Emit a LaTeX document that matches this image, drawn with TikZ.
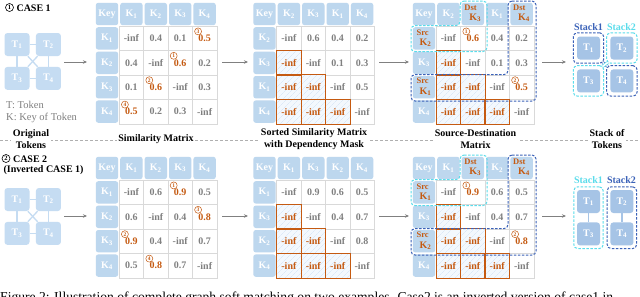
\documentclass[tikz,border=0pt]{standalone}
\usepackage{fontspec}
\setmainfont{Liberation Serif}
\usetikzlibrary{arrows.meta}
\usetikzlibrary{patterns.meta}
\usetikzlibrary{positioning}
\usetikzlibrary{fit}

\definecolor{hdrblue}{RGB}{189,215,238}
\definecolor{tokblue}{RGB}{197,220,242}
\definecolor{stkblue}{RGB}{166,196,230}
\definecolor{valgray}{RGB}{128,128,128}
\definecolor{gridgray}{RGB}{217,217,217}
\definecolor{hiorange}{RGB}{197,90,17}
\definecolor{stackone}{RGB}{59,98,184}
\definecolor{stacktwo}{RGB}{90,220,235}
\definecolor{maskfill}{RGB}{243,248,253}
\definecolor{hatchblue}{RGB}{208,226,244}
\definecolor{arrowgray}{RGB}{128,128,128}
\definecolor{sepgray}{RGB}{175,175,175}

\newcommand{\kk}[1]{K\textsubscript{#1}}
\newcommand{\tk}[1]{T\textsubscript{#1}}
\newcommand{\kd}[1]{\color{hiorange}\raisebox{3pt}{\shortstack[l]{{\fontsize{8.5}{8.5}\selectfont Dst}\\[0.5pt]\hspace*{5pt}\kk{#1}}}}
\newcommand{\ks}[1]{\color{hiorange}\raisebox{2pt}{\shortstack[l]{{\fontsize{8.5}{8.5}\selectfont Src}\\[0.5pt]\hspace*{3pt}\kk{#1}}}}

\newcommand{\simmat}[6]{%
  \foreach \h [count=\c from 0] in {#4}
    \node[hdr] (#1-0-\c) at (#2+24.4*\c, #3) {\h};
  \foreach \h [count=\r] in {#5}
    \node[hdr] (#1-\r-0) at (#2, #3+24.4*\r) {\h};
  \foreach \row [count=\r] in {#6}
    \foreach \st/\v [count=\c] in \row
      \node[\st] (#1-\r-\c) at (#2+24.4*\c, #3+24.4*\r) {\v};
}
\newcommand{\maskrows}[1]{%
  \foreach \r in {2,3,4}{
    \pgfmathtruncatemacro\cm{\r-1}
    \foreach \c in {1,...,\cm}
      \draw[maskline] (#1-\r-\c.north west) rectangle (#1-\r-\c.south east);
  }
}

\begin{document}
\begin{tikzpicture}[x=1pt, y=-1pt, font=\bfseries,
    cell/.style={minimum width=24.4pt, minimum height=24.4pt, inner sep=0pt},
    hdr/.style={fill=hdrblue, text=white, rounded corners=2.5pt, minimum width=22.4pt, minimum height=22.4pt, inner sep=0pt},
    val/.style={cell, draw=gridgray, line width=0.5pt, fill=white, text=valgray},
    hi/.style={val, text=hiorange},
    mask/.style={cell, fill=maskfill, postaction={pattern={Lines[angle=45, distance=4pt, line width=0.45pt]}, pattern color=hatchblue}, text=hiorange},
    maskline/.style={draw=hiorange, line width=0.8pt},
    onum/.style={circle, draw=hiorange, text=hiorange, line width=0.5pt, inner sep=0pt, minimum size=7pt, font=\fontsize{5.5}{5.5}\selectfont\bfseries},
    knum/.style={circle, draw, line width=0.6pt, inner sep=0pt, minimum size=8pt, font=\fontsize{6.5}{6.5}\selectfont\bfseries},
    tokbox/.style={fill=tokblue, text=white, rounded corners=3pt, minimum width=25pt, minimum height=23pt, inner sep=0pt},
    tokline/.style={draw=tokblue, line width=1.3pt},
    stkbox/.style={fill=stkblue, text=white, rounded corners=3pt, minimum size=23pt, inner sep=0pt},
    stklink/.style={draw=stkblue, line width=1.2pt},
    stkline/.style={draw=#1, dash pattern=on 2.5pt off 1.5pt, line width=1pt, rounded corners=4pt},
    bridge/.style={draw=#1, line width=0.7pt, double=white, double distance=1.6pt, shorten <=-2pt, shorten >=-2pt},
    flow/.style={draw=arrowgray, line width=0.7pt, -{Stealth[length=4pt, width=3.5pt]}},
    sep/.style={draw=sepgray, dash pattern=on 3pt off 2pt, line width=0.6pt},
    stage/.style={fill=white, inner sep=1.5pt, align=center}
  ]
  \path[fill=white, use as bounding box] (0,0) rectangle (640,297);

  \draw[sep] (0,140) -- (640,140);
  \node[stage] (lab-tok) at (31,139.5) {Original\\Tokens};
  \node[stage] (lab-sim) at (156,139.5) {Similarity Matrix};
  \node[stage] (lab-sort) at (314,139.5) {Sorted Similarity Matrix\\with Dependency Mask};
  \node[stage] (lab-sd) at (475.5,139.5) {Source-Destination\\Matrix};
  \node[stage] (lab-stk) at (607,139.5) {Stack of\\Tokens};

  \node[knum] (c1-num) at (9.5,7.5) {1};
  \node[anchor=west] (c1-name) at (13,8) {CASE 1};
  \node[knum] (c2-num) at (6,158.5) {2};
  \node[anchor=west] (c2-name) at (9.5,159) {CASE 2};
  \node[anchor=west] (c2-inv) at (0,170.5) {(Inverted CASE 1)};
  \node[anchor=west, text=valgray, font=\fontsize{10.5}{12}\selectfont] (key-t) at (2.7,104.5) {T: Token};
  \node[anchor=west, text=valgray, font=\fontsize{10.5}{12}\selectfont] (key-k) at (2.7,117.5) {K: Key of Token};

  \foreach \cs/\ty in {1/44.5,2/199.5} {
    \node[tokbox] (o\cs-t1) at (17,\ty) {\tk1};
    \node[tokbox, right=6pt of o\cs-t1] (o\cs-t2) {\tk2};
    \node[tokbox, below=10.5pt of o\cs-t1] (o\cs-t3) {\tk3};
    \node[tokbox, below=10.5pt of o\cs-t2] (o\cs-t4) {\tk4};
    \draw[tokline] (o\cs-t1) -- (o\cs-t2);
    \draw[tokline] (o\cs-t3) -- (o\cs-t4);
    \draw[tokline] (o\cs-t1) -- (o\cs-t3);
    \draw[tokline] (o\cs-t2) -- (o\cs-t4);
    \draw[tokline] (o\cs-t1) -- (o\cs-t4);
    \draw[tokline] (o\cs-t2) -- (o\cs-t3);
  }

  \foreach \dy [count=\cs] in {0,154} {
    \foreach \xa/\xb [count=\k] in {64/87,222/248,379/409,542/566} {
      \coordinate (ar\cs-\k-s) at (\xa,62+\dy);
      \coordinate (ar\cs-\k-e) at (\xb,62+\dy);
      \draw[flow] (ar\cs-\k-s) -- (ar\cs-\k-e);
    }
  }

  \simmat{a1}{107}{14}{Key,\kk1,\kk2,\kk3,\kk4}{\kk1,\kk2,\kk3,\kk4}{%
    {val/-inf,val/0.4,val/0.1,hi/0.5},
    {val/0.4,val/-inf,hi/0.6,val/0.2},
    {val/0.1,hi/0.6,val/-inf,val/0.3},
    {hi/0.5,val/0.2,val/0.3,val/-inf}}
  \simmat{b1}{264.5}{14}{Key,\kk2,\kk3,\kk1,\kk4}{\kk2,\kk3,\kk1,\kk4}{%
    {val/-inf,val/0.6,val/0.4,val/0.2},
    {mask/-inf,val/-inf,val/0.1,val/0.3},
    {mask/-inf,mask/-inf,val/-inf,val/0.5},
    {mask/-inf,mask/-inf,mask/-inf,val/-inf}}
  \simmat{c1}{424}{14}{Key,\kk2,\kd3,\kk1,\kd4}{\ks2,\kk3,\ks1,\kk4}{%
    {val/-inf,hi/0.6,val/0.4,val/0.2},
    {mask/-inf,val/-inf,val/0.1,val/0.3},
    {mask/-inf,mask/-inf,val/-inf,hi/0.5},
    {mask/-inf,mask/-inf,mask/-inf,val/-inf}}

  \simmat{a2}{107}{168}{Key,\kk1,\kk2,\kk3,\kk4}{\kk1,\kk2,\kk3,\kk4}{%
    {val/-inf,val/0.6,hi/0.9,val/0.5},
    {val/0.6,val/-inf,val/0.4,hi/0.8},
    {hi/0.9,val/0.4,val/-inf,val/0.7},
    {val/0.5,hi/0.8,val/0.7,val/-inf}}
  \simmat{b2}{264.5}{168}{Key,\kk1,\kk3,\kk2,\kk4}{\kk1,\kk3,\kk2,\kk4}{%
    {val/-inf,val/0.9,val/0.6,val/0.5},
    {mask/-inf,val/-inf,val/0.4,val/0.7},
    {mask/-inf,mask/-inf,val/-inf,val/0.8},
    {mask/-inf,mask/-inf,mask/-inf,val/-inf}}
  \simmat{c2}{424}{168}{Key,\kk1,\kd3,\kk2,\kd4}{\ks1,\kk3,\ks2,\kk4}{%
    {val/-inf,hi/0.9,val/0.6,val/0.5},
    {mask/-inf,val/-inf,val/0.4,val/0.7},
    {mask/-inf,mask/-inf,val/-inf,hi/0.8},
    {mask/-inf,mask/-inf,mask/-inf,val/-inf}}

  \maskrows{b1}
  \maskrows{c1}
  \maskrows{b2}
  \maskrows{c2}

  \foreach \m/\r/\c/\idx in {a1/1/4/3,a1/2/3/1,a1/3/2/2,a1/4/1/4,c1/1/2/1,c1/3/4/2,
      a2/1/3/1,a2/2/4/3,a2/3/1/2,a2/4/2/4,c2/1/2/1,c2/3/4/2}
    \node[onum, xshift=-6.5pt, yshift=7pt] (\m-n\idx) at (\m-\r-\c) {\idx};

  \foreach \dy in {0,154} {
    \draw[stkline=stacktwo] (460,1+\dy) -- (487,1+\dy) -- (487,51.5+\dy) -- (411,51.5+\dy) -- (411,25.6+\dy) -- (460,25.6+\dy) -- cycle;
    \draw[stkline=stackone] (508,1+\dy) -- (536,1+\dy) -- (536,101+\dy) -- (411,101+\dy) -- (411,74.6+\dy) -- (508,74.6+\dy) -- cycle;
  }

  \node[text=stackone] (s1-l1) at (588.5,27) {Stack1};
  \node[text=stacktwo] (s1-l2) at (621.5,27) {Stack2};
  \node[stkbox] (s1-t1) at (588.5,48) {\tk1};
  \node[stkbox, right=10pt of s1-t1] (s1-t2) {\tk2};
  \node[stkbox, below=9.5pt of s1-t1] (s1-t3) {\tk3};
  \node[stkbox, below=9.5pt of s1-t2] (s1-t4) {\tk4};
  \node[stkline=stackone, fit=(s1-t1), inner sep=3.5pt] (s1-o1) {};
  \node[stkline=stacktwo, fit=(s1-t2), inner sep=3.5pt] (s1-o2) {};
  \node[stkline=stacktwo, fit=(s1-t3), inner sep=3.5pt] (s1-o3) {};
  \node[stkline=stackone, fit=(s1-t4), inner sep=3.5pt] (s1-o4) {};
  \draw[bridge=stackone] (s1-o1.south east) -- (s1-o4.north west);
  \draw[bridge=stacktwo] (s1-o2.south west) -- (s1-o3.north east);

  \node[text=stacktwo] (s2-l1) at (588.5,180) {Stack1};
  \node[text=stackone] (s2-l2) at (621.5,180) {Stack2};
  \node[stkbox] (s2-t1) at (588.5,201.5) {\tk1};
  \node[stkbox, right=10pt of s2-t1] (s2-t2) {\tk2};
  \node[stkbox, below=9pt of s2-t1] (s2-t3) {\tk3};
  \node[stkbox, below=9pt of s2-t2] (s2-t4) {\tk4};
  \draw[stklink] (s2-t1) -- (s2-t3);
  \draw[stklink] (s2-t2) -- (s2-t4);
  \node[stkline=stacktwo, fit=(s2-t1)(s2-t3), inner sep=3pt] (s2-o1) {};
  \node[stkline=stackone, fit=(s2-t2)(s2-t4), inner sep=3pt] (s2-o2) {};

  \node[anchor=base west, inner sep=0pt, font=\fontsize{13.6}{15}\selectfont] (fig-cap) at (0,301) {Figure 2: Illustration of complete graph soft matching on two examples. Case2 is an inverted version of case1 in};
\end{tikzpicture}
\end{document}
